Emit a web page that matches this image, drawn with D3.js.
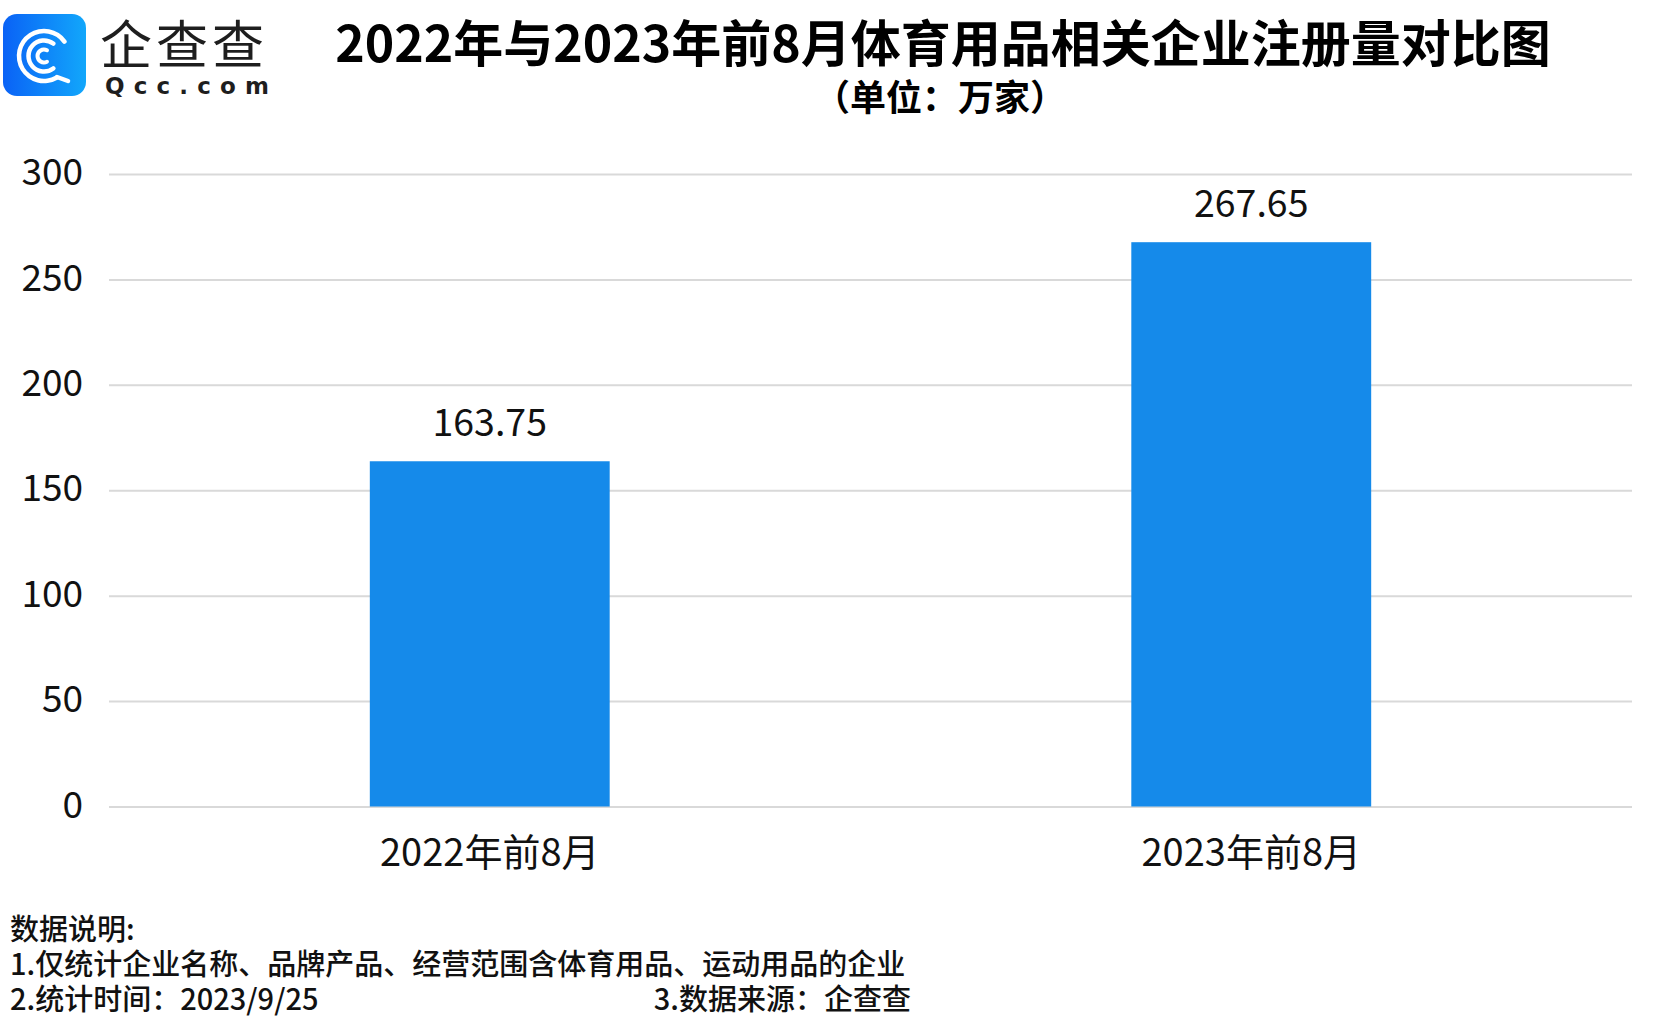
<html>

<head>
  <meta charset="utf-8">
  <title>2022年与2023年前8月体育用品相关企业注册量对比图</title>
  <script src="https://d3js.org/d3.v7.min.js"></script>
  <style>
    body {
      margin: 0;
      background: #fff;
    }

    svg text {
      font-family: "Noto Sans CJK SC", "Noto Sans", sans-serif;
    }

    .gridlines line {
      stroke: #d9d9d9;
      stroke-width: 2;
    }

    .gridlines .domain,
    .x.axis .domain {
      stroke: none;
    }
  </style>
</head>

<body>
  <svg id="chart" width="1655" height="1030"></svg>

  <script>
    // data
    const categories = ["2022年前8月", "2023年前8月"];
    const values = [163.75, 267.65];
    const yTicks = [0, 50, 100, 150, 200, 250, 300];

    const titleText = "2022年与2023年前8月体育用品相关企业注册量对比图";
    const unitText = "（单位：万家）";
    const noteLines = [
      "数据说明:",
      "1.仅统计企业名称、品牌产品、经营范围含体育用品、运动用品的企业",
      "2.统计时间：2023/9/25"
    ];
    const sourceText = "3.数据来源：企查查";

    const svg = d3.select("svg#chart");
    const width = +svg.attr("width");
    const height = +svg.attr("height");
    const margin = { top: 174, right: 23, bottom: 223.5, left: 109 };
    const chartWidth = width - margin.left - margin.right;
    const chartHeight = height - margin.top - margin.bottom;

    // scales
    const xScale = d3.scaleBand()
      .domain(categories)
      .range([0, chartWidth])
      .paddingInner(0.685)
      .paddingOuter(0.3425);

    const yScale = d3.scaleLinear()
      .domain([0, 300])
      .range([chartHeight, 0]);

    // gridlines + y tick labels
    const leftAxis = d3.axisLeft(yScale)
      .tickValues(yTicks)
      .tickSize(-chartWidth)
      .tickPadding(26);

    const grid = svg.append("g")
      .attr("class", "y gridlines")
      .attr("transform", `translate(${margin.left}, ${margin.top})`)
      .call(leftAxis);
    grid.selectAll("text")
      .attr("fill", "#111")
      .attr("dy", "0.29em")
      .style("font-size", "37px");

    // bars
    const chartArea = svg.append("g")
      .attr("transform", `translate(${margin.left}, ${margin.top})`);

    categories.forEach((c, i) => {
      chartArea.append("rect")
        .attr("x", xScale(c))
        .attr("y", yScale(values[i]))
        .attr("width", xScale.bandwidth())
        .attr("height", yScale(0) - yScale(values[i]))
        .attr("fill", "#158aea");

      chartArea.append("text")
        .attr("x", xScale(c) + xScale.bandwidth() / 2)
        .attr("y", yScale(values[i]) - 25)
        .attr("text-anchor", "middle")
        .attr("fill", "#111")
        .style("font-size", "37.5px")
        .text(values[i].toFixed(2));
    });

    // category labels
    const bottomAxis = d3.axisBottom(xScale)
      .tickSize(0)
      .tickPadding(33);
    const xAxis = svg.append("g")
      .attr("class", "x axis")
      .attr("transform", `translate(${margin.left}, ${margin.top + chartHeight})`)
      .call(bottomAxis);
    xAxis.selectAll("text")
      .attr("fill", "#111")
      .style("font-size", "38px");

    // title
    svg.append("text")
      .attr("x", 943)
      .attr("y", 62)
      .attr("text-anchor", "middle")
      .attr("fill", "#000")
      .style("font-size", "50px")
      .style("font-weight", "bold")
      .text(titleText);

    svg.append("text")
      .attr("x", 940)
      .attr("y", 111)
      .attr("text-anchor", "middle")
      .attr("fill", "#000")
      .style("font-size", "36px")
      .style("font-weight", "bold")
      .text(unitText);

    // footer notes
    noteLines.forEach((t, i) => {
      svg.append("text")
        .attr("x", 10)
        .attr("y", 940 + i * 35)
        .attr("fill", "#111")
        .style("font-size", "29px")
        .style("font-weight", 500)
        .text(t);
    });
    svg.append("text")
      .attr("x", 911)
      .attr("y", 940 + 2 * 35)
      .attr("text-anchor", "end")
      .attr("fill", "#111")
      .style("font-size", "29px")
      .style("font-weight", 500)
      .text(sourceText);

    // logo
    const logo = svg.append("g").attr("id", "logo");
    const grad = svg.append("defs").append("linearGradient")
      .attr("id", "logoGrad")
      .attr("x1", "0%").attr("x2", "100%")
      .attr("y1", "0%").attr("y2", "0%");
    grad.append("stop").attr("offset", "0%").attr("stop-color", "#0a62f6");
    grad.append("stop").attr("offset", "100%").attr("stop-color", "#12a7fb");

    logo.append("rect")
      .attr("x", 3).attr("y", 14)
      .attr("width", 83).attr("height", 82)
      .attr("rx", 14)
      .attr("fill", "url(#logoGrad)");

    const deg = Math.PI / 180;
    const rings = [
      { r: 25, w: 4.5, a0: 145, a1: 420 },
      { r: 15.5, w: 4.5, a0: 135, a1: 405 },
      { r: 6.5, w: 4, a0: 135, a1: 405 }
    ];
    const ringG = logo.append("g").attr("transform", "translate(44, 56)");
    rings.forEach(d => {
      ringG.append("path")
        .attr("d", d3.arc()
          .innerRadius(d.r - d.w / 2)
          .outerRadius(d.r + d.w / 2)
          .startAngle(d.a0 * deg)
          .endAngle(d.a1 * deg)
          .cornerRadius(d.w / 2)())
        .attr("fill", "#fff");
    });
    logo.append("line")
      .attr("x1", 57).attr("y1", 77)
      .attr("x2", 68).attr("y2", 81)
      .attr("stroke", "#fff")
      .attr("stroke-width", 4.5)
      .attr("stroke-linecap", "round");

    logo.append("text")
      .attr("x", 100)
      .attr("y", 64)
      .attr("fill", "#1e1e1e")
      .style("font-size", "52px")
      .style("font-weight", 400)
      .style("letter-spacing", "4px")
      .text("企查查");

    logo.append("text")
      .attr("x", 105)
      .attr("y", 94)
      .attr("fill", "#1e1e1e")
      .attr("textLength", 164)
      .attr("lengthAdjust", "spacing")
      .style("font-family", "'DejaVu Sans', sans-serif")
      .style("font-size", "23px")
      .style("font-weight", "bold")
      .text("Qcc.com");
  </script>
</body>

</html>
